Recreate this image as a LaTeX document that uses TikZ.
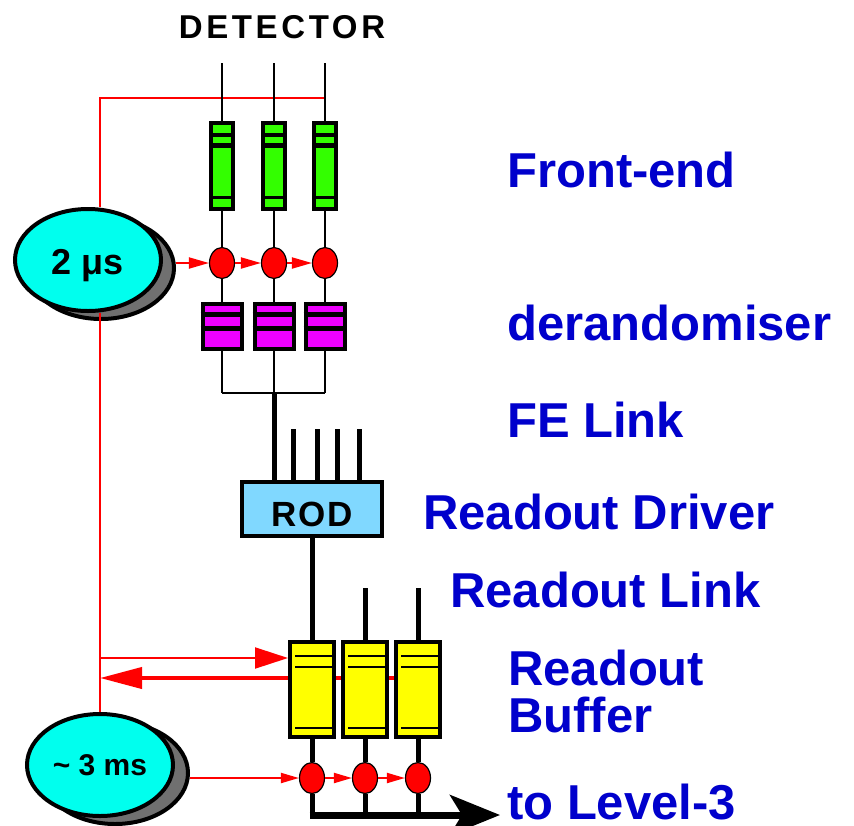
\documentclass[tikz,border=0pt]{standalone}
\usepackage{fontspec}
\setmainfont{Liberation Sans}
\usetikzlibrary{shapes.geometric,arrows.meta}
\definecolor{labelblue}{RGB}{0,0,204}
\definecolor{fegreen}{RGB}{51,255,0}
\definecolor{dermagenta}{RGB}{238,0,255}
\definecolor{bufyellow}{RGB}{255,255,0}
\definecolor{rodblue}{RGB}{128,216,255}
\definecolor{timercyan}{RGB}{0,255,238}
\definecolor{shadowgray}{RGB}{112,112,112}
\tikzset{
  lbl/.style={text=labelblue,font=\fontsize{49}{55}\selectfont\bfseries,anchor=base west,inner sep=0},
  timer/.style={ellipse,draw,line width=4pt,fill=timercyan,minimum width=146pt,minimum height=102pt,inner sep=0},
  timershadow/.style={ellipse,draw,line width=4pt,fill=shadowgray,minimum width=146pt,minimum height=102pt,inner sep=0},
  fecell/.style={draw,line width=4pt,fill=fegreen,minimum width=22pt,minimum height=86pt,inner sep=0},
  dercell/.style={draw,line width=4pt,fill=dermagenta,minimum width=39pt,minimum height=45pt,inner sep=0},
  bufcell/.style={draw,line width=4pt,fill=bufyellow,minimum width=44pt,minimum height=95pt,inner sep=0},
  syncdot/.style={ellipse,draw,line width=1.2pt,fill=red,minimum width=25pt,minimum height=31pt,inner sep=0},
  wire/.style={line width=1.6pt},
  bus/.style={line width=5pt},
  trigline/.style={red,line width=2pt},
  trigarrow/.style={red,line width=2pt,-{Triangle[length=20pt,width=11pt]}}
}
\begin{document}
\begin{tikzpicture}[x=1pt,y=-1pt]
\useasboundingbox (0,0) rectangle (854,825);
% labels
\node[font=\fontsize{33}{36}\selectfont\bfseries\addfontfeature{LetterSpace=11},anchor=base,inner sep=0] (det) at (282,38) {DETECTOR};
\node[lbl] (lblfe) at (507,187) {Front-end};
\node[lbl] (lbldr) at (507,340) {derandomiser};
\node[lbl] (lbllink) at (507,437) {FE Link};
\node[lbl] (lblrod) at (423,529) {Readout Driver};
\node[lbl] (lblrol) at (450,607) {Readout Link};
\node[lbl] (lblrb) at (508,685) {Readout};
\node[lbl] (lblbuf) at (508,732) {Buffer};
\node[lbl] (lbll3) at (507,819) {to Level-3};

% timers
\node[timershadow] (timer1s) at (101,268) {};
\node[timer,font=\fontsize{36}{40}\selectfont\bfseries] (timer1) at (88,260) {\raisebox{-6pt}[\height][\depth]{2 μs}};
\node[timershadow] (timer2s) at (115,773) {};
\node[timer,font=\fontsize{30}{34}\selectfont\bfseries] (timer2) at (100,765) {\textasciitilde\ 3 ms};

% trigger lines
\coordinate (trg) at (325,98);
\coordinate (fbA) at (100,658);
\coordinate (fbB) at (100,678);
\coordinate (fbBs) at (430,678);
\draw[trigline] (trg) -| ([xshift=12pt]timer1.north);
\draw[trigline] ([xshift=12pt]timer1.south) -- (timer2.north);
\draw[red,line width=4pt,-{Triangle[length=42pt,width=21pt]}] (fbBs) -- (fbB);

% front-end columns
\foreach \i/\x in {1/222,2/274,3/325} {
  \coordinate (det\i) at (\x,63);
  \coordinate (br\i) at (\x,393);
  \node[fecell] (fe\i) at (\x,166) {};
  \node[syncdot] (sy\i) at (\x,263) {};
  \node[dercell] (dr\i) at (\x,326.5) {};
  \draw[wire] (det\i) -- (fe\i.north);
  \draw[wire] (fe\i.south) -- (sy\i.north);
  \draw[wire] (sy\i.south) -- (dr\i.north);
  \draw[wire] (dr\i.south) -- (br\i);
  \draw[line width=4pt] ([yshift=-13.7pt]fe\i.north west) -- ([yshift=-13.7pt]fe\i.north east);
  \draw[line width=5pt] ([yshift=-24pt]fe\i.north west) -- ([yshift=-24pt]fe\i.north east);
  \draw[line width=3pt] ([yshift=-76.7pt]fe\i.north west) -- ([yshift=-76.7pt]fe\i.north east);
  \draw[line width=5pt] ([yshift=-12.8pt]dr\i.north west) -- ([yshift=-12.8pt]dr\i.north east);
  \draw[line width=5pt] ([yshift=-26pt]dr\i.north west) -- ([yshift=-26pt]dr\i.north east);
}
\draw[wire] (br1) -- (br3);
\draw[trigarrow] (timer1s.east |- sy1.west) -- (sy1.west);
\draw[trigarrow] (sy1.east) -- (sy2.west);
\draw[trigarrow] (sy2.east) -- (sy3.west);

% readout driver
\node[draw,line width=4pt,fill=rodblue,minimum width=140pt,minimum height=54pt,inner sep=0,
  font=\fontsize{35}{38}\selectfont\bfseries\addfontfeature{LetterSpace=5}] (rod) at (312,509) {\raisebox{-5pt}[\height][\depth]{ROD}};
\draw[bus] (br2) -- ([xshift=34pt]rod.north west);
\foreach \x in {293,317,337,359} {
  \coordinate (lk\x) at (\x,429);
  \draw[bus] (lk\x) -- (lk\x |- rod.north);
}

% readout buffers
\foreach \i/\x in {1/312,2/365,3/418} {
  \coordinate (bot\i) at (\x,815);
  \node[bufcell] (rb\i) at (\x,689.5) {};
  \node[syncdot] (ev\i) at (\x,778) {};
  \draw[bus] (rb\i.south) -- (ev\i.north);
  \draw[bus] (ev\i.south) -- (bot\i);
  \draw[line width=1.5pt] ([xshift=7pt,yshift=-16pt]rb\i.north west) -- ([yshift=-16pt]rb\i.north east);
  \draw[line width=1.5pt] ([xshift=7pt,yshift=-27pt]rb\i.north west) -- ([yshift=-27pt]rb\i.north east);
  \draw[line width=1.5pt] ([xshift=7pt,yshift=-88pt]rb\i.north west) -- ([yshift=-88pt]rb\i.north east);
}
\draw[bus] (rod.south) -- (rb1.north);
\foreach \i in {2,3} {
  \coordinate (rl\i) at (rb\i.north |- 0,588);
  \draw[bus] (rl\i) -- (rb\i.north);
}
\draw[trigline,-{Triangle[length=33pt,width=21pt]}] (fbA) -- (fbA -| rb1.west);
\draw[red,line width=2pt,-{Triangle[length=18pt,width=10pt]}] (timer2s.east |- ev1.west) -- (ev1.west);
\draw[red,line width=2pt,-{Triangle[length=18pt,width=10pt]}] (ev1.east) -- (ev2.west);
\draw[red,line width=2pt,-{Triangle[length=18pt,width=10pt]}] (ev2.east) -- (ev3.west);

% to level-3
\coordinate (lv) at (500,815);
\draw[line width=7pt,-{Stealth[length=50pt,width=40pt,inset=12pt]}] ([xshift=-2.5pt]bot1) -- (lv);
\end{tikzpicture}
\end{document}
